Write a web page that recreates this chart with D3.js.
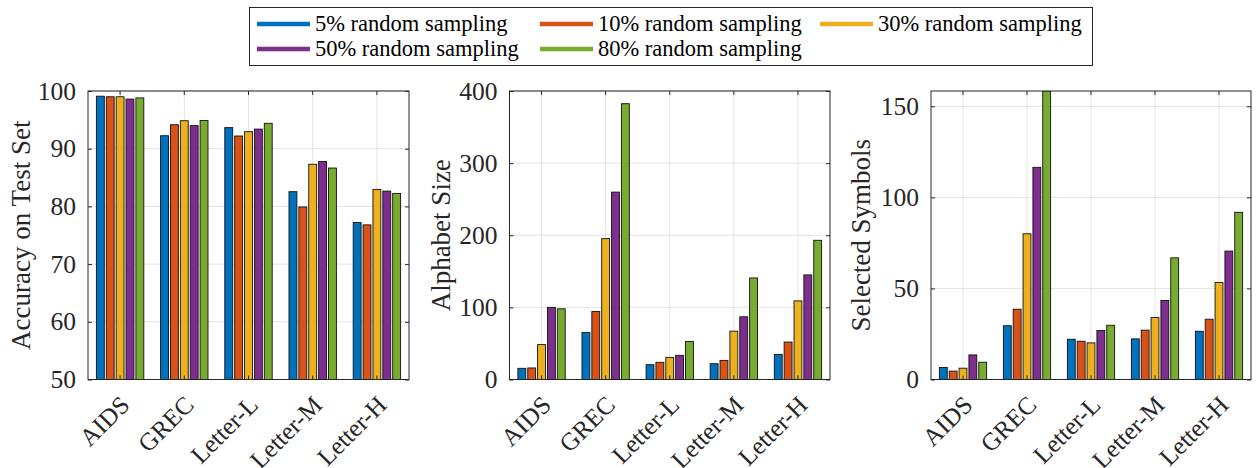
<!DOCTYPE html>
<html>
<head>
<meta charset="utf-8">
<script src="https://cdn.jsdelivr.net/npm/d3@7"></script>
<style>
  html, body { margin: 0; padding: 0; background: #fff; }
  svg { display: block; }
  svg text { font-family: "Liberation Serif", "Times New Roman", serif !important; }
</style>
</head>
<body>
<svg id="chart" width="1256" height="468"></svg>
<script>
// ---------------- DATA ----------------
const categories = ["AIDS", "GREC", "Letter-L", "Letter-M", "Letter-H"];
const seriesNames = ["5% random sampling", "10% random sampling", "30% random sampling",
                     "50% random sampling", "80% random sampling"];

// Accuracy on Test Set (one array per series, over categories)
const accuracy5  = [99.1, 92.25, 93.65, 82.55, 77.2];
const accuracy10 = [99.0, 94.15, 92.2, 79.9, 76.8];
const accuracy30 = [99.0, 94.85, 92.95, 87.3, 82.95];
const accuracy50 = [98.6, 94.0, 93.4, 87.8, 82.65];
const accuracy80 = [98.8, 94.9, 94.4, 86.65, 82.25];

// Alphabet Size
const alphabet5  = [15.5, 65.3, 20.5, 21.9, 34.8];
const alphabet10 = [16, 94.3, 23.8, 26.5, 51.9];
const alphabet30 = [48.4, 195.3, 30.7, 67, 109];
const alphabet50 = [100, 259.8, 33.5, 86.9, 145];
const alphabet80 = [98, 382.4, 52.8, 140.8, 193];

// Selected Symbols
const selected5  = [6.6, 29.5, 22.1, 22.3, 26.5];
const selected10 = [4.6, 38.6, 21, 27.1, 33.1];
const selected30 = [6.2, 80, 20.1, 34, 53.3];
const selected50 = [13.5, 116.5, 26.9, 43.4, 70.5];
const selected80 = [9.5, 158.4, 29.8, 66.8, 91.8];

const accuracyTicks = [50, 60, 70, 80, 90, 100];
const alphabetTicks = [0, 100, 200, 300, 400];
const selectedTicks = [0, 50, 100, 150];

const yTitles = ["Accuracy on Test Set", "Alphabet Size", "Selected Symbols"];

// ---------------- STYLE / LAYOUT ----------------
const FONT = '"Liberation Serif", "Times New Roman", serif';
const colors = ["#0072BD", "#D95319", "#EDB120", "#7E2F8E", "#77AC30"];
const axisColor = "#262626";
const gridColor = "#e3e3e3";

const panels = [
  { x0: 88,    x1: 409,  domain: [50, 100],   ticks: accuracyTicks,
    data: [accuracy5, accuracy10, accuracy30, accuracy50, accuracy80], title: yTitles[0], titleX: 30 },
  { x0: 509.5, x1: 830,  domain: [0, 400],    ticks: alphabetTicks,
    data: [alphabet5, alphabet10, alphabet30, alphabet50, alphabet80], title: yTitles[1], titleX: 450 },
  { x0: 931,   x1: 1251, domain: [0, 158.4],  ticks: selectedTicks,
    data: [selected5, selected10, selected30, selected50, selected80], title: yTitles[2], titleX: 870 }
];
const yTop = 91, yBot = 379.5;

const svg = d3.select("#chart");

panels.forEach((p, pi) => {
  const g = svg.append("g");
  const x = d3.scaleBand().domain(categories).range([p.x0, p.x1]).padding(0);
  const y = d3.scaleLinear().domain(p.domain).range([yBot, yTop]);
  const nS = p.data.length;
  const groupW = Math.min(0.8, nS / (nS + 1.5)) * x.bandwidth();
  const slot = groupW / nS;
  const barW = slot * 0.8;

  const clipId = "clip" + pi;
  svg.append("clipPath").attr("id", clipId).append("rect")
    .attr("x", p.x0).attr("y", yTop).attr("width", p.x1 - p.x0).attr("height", yBot - yTop);

  // grid
  g.append("g").selectAll("line").data(p.ticks).join("line")
    .attr("x1", p.x0).attr("x2", p.x1)
    .attr("y1", d => y(d)).attr("y2", d => y(d))
    .attr("stroke", gridColor).attr("stroke-width", 1);
  g.append("g").selectAll("line").data(categories).join("line")
    .attr("x1", d => x(d) + x.bandwidth() / 2).attr("x2", d => x(d) + x.bandwidth() / 2)
    .attr("y1", yTop).attr("y2", yBot)
    .attr("stroke", gridColor).attr("stroke-width", 1);

  // bars
  const bars = g.append("g").attr("clip-path", `url(#${clipId})`);
  p.data.forEach((vals, si) => {
    bars.selectAll(null).data(vals.map((v, ci) => ({ v, c: categories[ci] }))).join("rect")
      .attr("x", d => x(d.c) + x.bandwidth() / 2 - groupW / 2 + si * slot + (slot - barW) / 2)
      .attr("width", barW)
      .attr("y", d => y(d.v))
      .attr("height", d => y(p.domain[0]) - y(d.v))
      .attr("fill", colors[si])
      .attr("stroke", "#111")
      .attr("stroke-width", 0.9);
  });

  // axes via d3
  const tickLen = 4;
  const left = d3.axisLeft(y).tickValues(p.ticks).tickSize(-tickLen).tickPadding(8 + tickLen).tickFormat(d3.format("d"));
  const right = d3.axisRight(y).tickValues(p.ticks).tickSize(-tickLen).tickFormat("");
  const bottom = d3.axisBottom(x).tickSize(-tickLen).tickFormat("");
  const top = d3.axisTop(x).tickSize(-tickLen).tickFormat("");

  const gl = g.append("g").attr("transform", `translate(${p.x0},0)`).call(left);
  g.append("g").attr("transform", `translate(${p.x1},0)`).call(right);
  g.append("g").attr("transform", `translate(0,${yBot})`).call(bottom);
  g.append("g").attr("transform", `translate(0,${yTop})`).call(top);

  g.selectAll(".domain").remove();
  g.selectAll(".tick line").attr("stroke", axisColor);
  gl.attr("font-family", FONT).attr("font-size", 25.5);
  gl.selectAll(".tick text")
    .style("font-family", FONT)
    .attr("font-size", 25.5).attr("fill", axisColor);

  // box
  g.append("rect").attr("x", p.x0).attr("y", yTop)
    .attr("width", p.x1 - p.x0).attr("height", yBot - yTop)
    .attr("fill", "none").attr("stroke", axisColor).attr("stroke-width", 1);

  // rotated category labels
  g.append("g").selectAll("text").data(categories).join("text")
    .attr("transform", d => `translate(${x(d) + x.bandwidth() / 2 + 11},${yBot + 27}) rotate(-45)`)
    .attr("text-anchor", "end")
    .style("font-family", FONT)
    .attr("font-size", 25).attr("fill", axisColor)
    .text(d => d);

  // y title
  g.append("text")
    .attr("transform", `translate(${p.titleX},${(yTop + yBot) / 2}) rotate(-90)`)
    .attr("text-anchor", "middle")
    .style("font-family", FONT)
    .attr("font-size", 27).attr("fill", axisColor)
    .text(p.title);
});

// ---------------- LEGEND ----------------
const legend = svg.append("g");
legend.append("rect").attr("x", 249.5).attr("y", 7.5).attr("width", 843).attr("height", 58)
  .attr("fill", "#fff").attr("stroke", axisColor).attr("stroke-width", 1);
const colX = [257, 540, 820];
const rowY = [24, 49];
seriesNames.forEach((name, i) => {
  const cx = colX[i % 3], cy = rowY[Math.floor(i / 3)];
  legend.append("line").attr("x1", cx).attr("x2", cx + 53).attr("y1", cy).attr("y2", cy)
    .attr("stroke", colors[i]).attr("stroke-width", 4.5);
  legend.append("text").attr("x", cx + 58).attr("y", cy + 7)
    .style("font-family", FONT)
    .attr("font-size", 22.5).attr("fill", "#000").text(name);
});
</script>
</body>
</html>
